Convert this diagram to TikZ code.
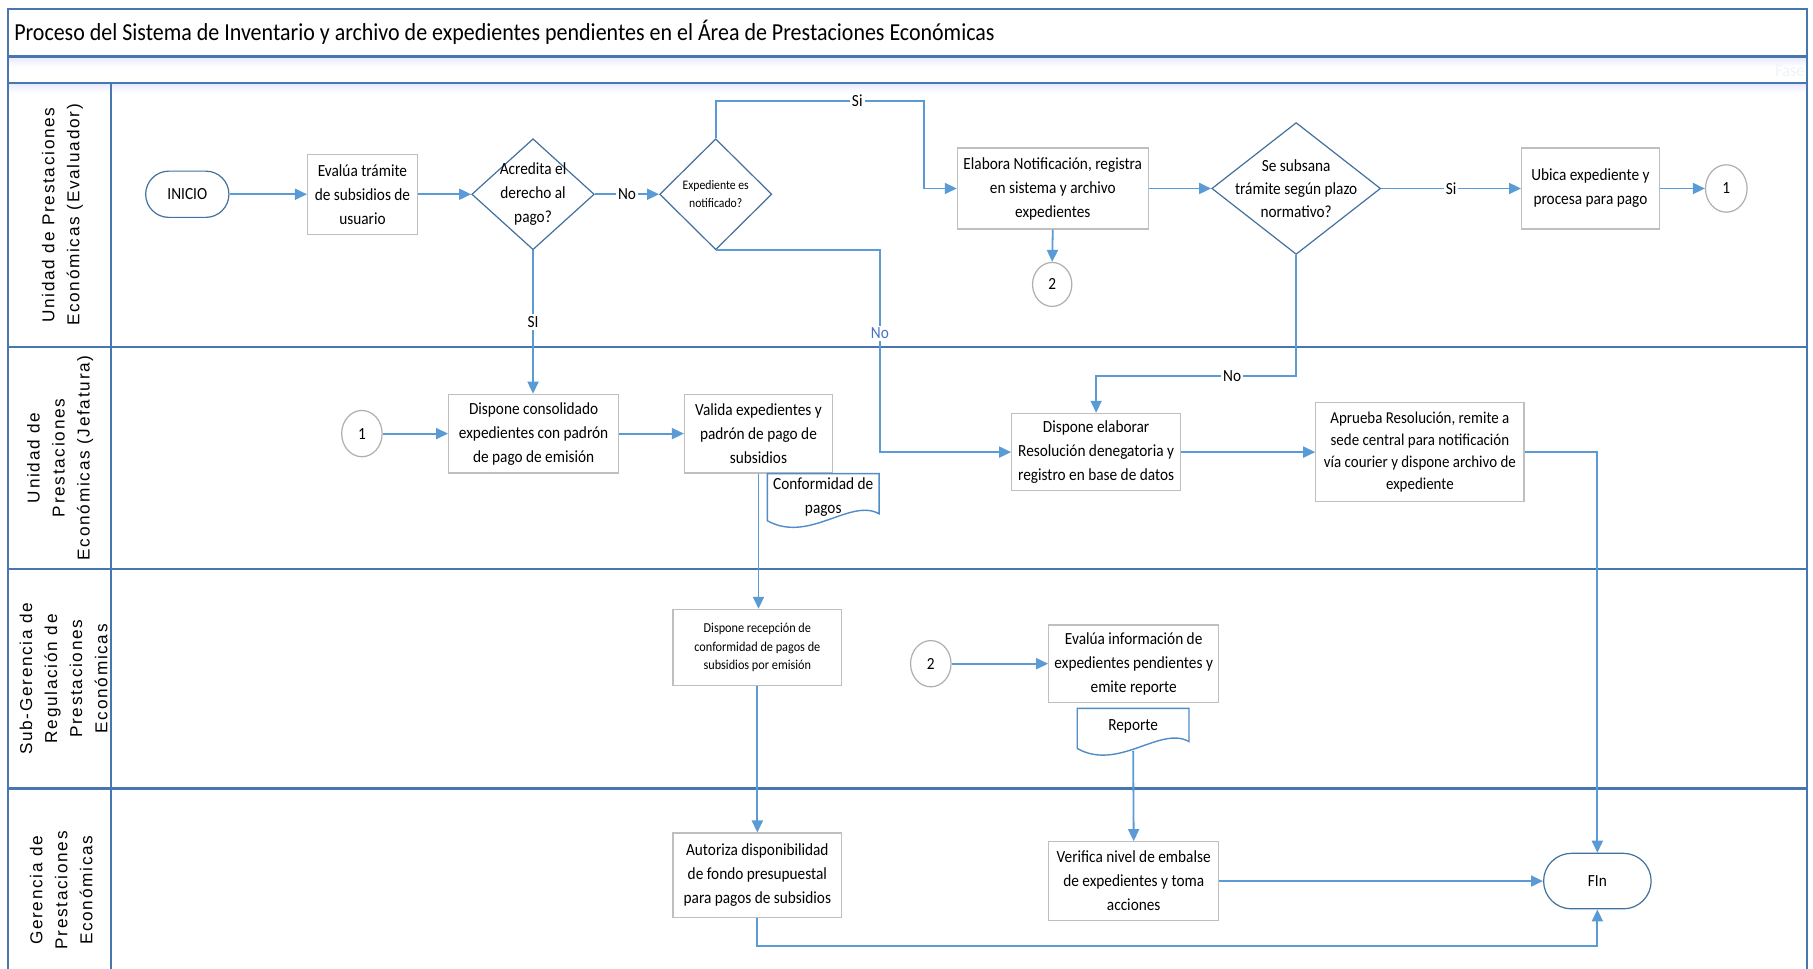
\documentclass[tikz,border=0pt]{standalone}
\usepackage{fontspec}
\setmainfont{Carlito}[FakeStretch=0.9]
\newfontfamily\lanefont{Liberation Sans}[LetterSpace=10]
\usetikzlibrary{shapes.geometric,arrows.meta,calc}

\definecolor{poolblue}{RGB}{72,118,176}
\definecolor{flowblue}{RGB}{91,155,213}
\definecolor{decblue}{RGB}{65,113,156}
\definecolor{boxgray}{RGB}{191,191,191}
\definecolor{circgray}{RGB}{175,175,175}
\definecolor{docblue}{RGB}{80,140,200}
\definecolor{nolabel}{RGB}{68,114,196}
\definecolor{phasetext}{RGB}{238,243,249}

\newcommand\boxfont{\fontsize{8.5}{12}\selectfont}
\newcommand\smallboxfont{\fontsize{6.8}{9.4}\selectfont}
% document symbol with a wavy lower edge, drawn around a node
\newcommand\docshape[1]{%
  \draw[docline] (#1.north west) -- (#1.north east) -- (#1.south east)
    .. controls ($(#1.south east)+(-25,-14)$) and ($(#1.south west)+(36,26)$)
    .. ($(#1.south west)+(0,6)$) -- cycle;}

\begin{document}
\begin{tikzpicture}[x=0.578pt,y=-0.578pt,
  every node/.style={font=\boxfont},
  pool/.style={draw=poolblue,line width=1.2pt},
  proc/.style n args={2}{draw=boxgray,line width=0.6pt,fill=white,align=center,
    inner sep=1pt,minimum width=#1*0.578pt,minimum height=#2*0.578pt},
  term/.style n args={2}{draw=decblue,line width=0.6pt,fill=white,align=center,
    minimum width=#1*0.578pt,minimum height=#2*0.578pt,rounded corners=#2*0.289pt},
  dec/.style n args={2}{diamond,draw=decblue,line width=0.6pt,fill=white,inner sep=0pt,
    minimum width=#1*0.578pt,minimum height=#2*0.578pt},
  dectext/.style={align=center,inner sep=0pt},
  conn/.style n args={2}{ellipse,draw=circgray,line width=0.6pt,fill=white,inner sep=0pt,
    minimum width=#1*0.578pt,minimum height=#2*0.578pt},
  docnode/.style n args={2}{align=center,inner sep=0pt,
    minimum width=#1*0.578pt,minimum height=#2*0.578pt},
  docline/.style={draw=docblue,line width=0.7pt,fill=white},
  flow/.style={draw=flowblue,line width=0.9pt,-{Triangle[length=6pt,width=5.5pt]}},
  lbl/.style={fill=white,inner sep=1pt,text=black},
  lanelabel/.style={rotate=90,align=center,font=\lanefont\fontsize{8.6}{12.5}\selectfont}]

\useasboundingbox (0,0) rectangle (1568,837.2);
\clip (0,0) rectangle (1568,837.2);
\fill[white] (0,0) rectangle (1568,837.2);

% ---------- pool, header rows and lanes ----------
\shade[top color=blue!9,bottom color=white] (7,49) rectangle (1563,58);
\shade[top color=blue!9,bottom color=white] (7,72) rectangle (1563,80);
\draw[pool] (7,8) rectangle (1563,880);
\draw[pool] (7,49) -- (1563,49);
\draw[pool] (7,72) -- (1563,72);
\draw[pool] (96,72) -- (96,880);
\draw[pool] (7,300) -- (1563,300);
\draw[pool] (7,492) -- (1563,492);
\draw[pool] (7,682) -- (1563,682);

\node[anchor=west,font=\fontsize{12.2}{14}\selectfont,inner sep=0pt] (title) at (12,28)
  {Proceso del Sistema de Inventario y archivo de expedientes pendientes en el Área de Prestaciones Económicas};
\node[anchor=east,text=phasetext,inner sep=0pt,font=\fontsize{9}{11}\selectfont] (phase) at (1561,61) {Fase};

\node[lanelabel] (lane1) at (54,186) {Unidad de Prestaciones\\Económicas (Evaluador)};
\node[lanelabel] (lane2) at (52,396) {Unidad de\\Prestaciones\\Económicas (Jefatura)};
\node[lanelabel] (lane3) at (55,587) {Sub-Gerencia de\\Regulación de\\Prestaciones\\Económicas};
\node[lanelabel] (lane4) at (53,770) {Gerencia de\\Prestaciones\\Económicas};

% ---------- lane 1: evaluador ----------
\node[term={72}{40}] (ini) at (162,168) {INICIO};
\node[proc={95}{69}] (eva) at (313.5,168) {Evalúa trámite\\de subsidios de\\usuario};
\node[dec={106}{96}] (d1) at (461,168) {};
\node[dectext] (d1t) at (d1) {Acredita el\\derecho al\\pago?};
\node[dec={97}{96}] (d2) at (619,168) {};
\node[dectext,font=\fontsize{6.5}{9.2}\selectfont] (d2t) at (d2) {Expediente es\\notificado?};
\node[proc={165}{70}] (elab) at (910.5,163) {Elabora Notificación, registra\\en sistema y archivo\\expedientes};
\node[conn={34}{38}] (c2a) at (910,246) {2};
\node[dec={146}{114}] (d3) at (1121,163) {};
\node[dectext,font=\fontsize{8.5}{11.6}\selectfont] (d3t) at (d3) {Se subsana\\trámite según plazo\\normativo?};
\node[proc={119}{70}] (ubi) at (1375.5,163) {Ubica expediente y\\procesa para pago};
\node[conn={36}{41}] (c1a) at (1493,163) {1};

% ---------- lane 2: jefatura ----------
\node[conn={35}{40}] (c1b) at (313,375) {1};
\node[proc={147}{68}] (cons) at (461.5,375) {Dispone consolidado\\expedientes con padrón\\de pago de emisión};
\node[proc={128}{68}] (vali) at (656,375) {Valida expedientes y\\padrón de pago de\\subsidios};
\node[docnode={96}{34}] (conf) at (712,427) {};
\docshape{conf}
\node[align=center,inner sep=0pt] (conft) at (712,430) {Conformidad de\\pagos};
\node[proc={146}{67}] (res) at (948,391) {Dispone elaborar\\Resolución denegatoria y\\registro en base de datos};
\node[proc={180}{86},font=\fontsize{8.3}{11}\selectfont] (apr) at (1228,391)
  {Aprueba Resolución, remite a\\sede central para notificación\\vía courier y dispone archivo de\\expediente};

% ---------- lane 3: sub-gerencia ----------
\node[proc={146}{66},font=\smallboxfont] (rec) at (655,560)
  {Dispone recepción de\\conformidad de pagos de\\subsidios por emisión};
\node[conn={35}{40}] (c2b) at (805,574) {2};
\node[proc={147}{67}] (evi) at (980.5,574) {Evalúa información de\\expedientes pendientes y\\emite reporte};
\node[docnode={96}{28}] (rep) at (980,627) {};
\docshape{rep}
\node[inner sep=0pt] (rept) at (980,628) {Reporte};

% ---------- lane 4: gerencia ----------
\node[proc={146}{73}] (aut) at (655,757) {Autoriza disponibilidad\\de fondo presupuestal\\para pagos de subsidios};
\node[proc={147}{68}] (ver) at (980.5,762) {Verifica nivel de embalse\\de expedientes y toma\\acciones};
\node[term={93}{48}] (fin) at (1381.5,762) {FIn};

% bend points
\coordinate (b1) at (799,87);
\coordinate (b2) at (761,391);
\coordinate (b3) at (1121,325);
\coordinate (b4) at (1000,818);

% ---------- connectors ----------
\draw[flow] (ini) -- (eva);
\draw[flow] (eva) -- (d1);
\draw[flow] (d1) -- node[lbl] {No} (d2);
\draw[flow] (d2.north) |- node[lbl,pos=0.84] {Si} (b1) |- (elab.west);
\draw[flow] (d2.south) -| node[lbl,pos=0.705,text=nolabel] {No} (b2) -- (res.west);
\draw[flow] (d1.south) -- node[lbl,pos=0.5] {SI} (d1.south |- cons.north);
\draw[flow] (elab.south) -- (c2a.north);
\draw[flow] (elab) -- (d3);
\draw[flow] (d3) -- node[lbl,pos=0.5] {Si} (ubi);
\draw[flow] (ubi) -- (c1a);
\draw[flow] (d3.south) -- (b3) -| node[lbl,pos=0.16] {No} (res.north);
\draw[flow] (c1b) -- (cons);
\draw[flow] (cons) -- (vali);
\draw[flow] (res) -- (apr);
\draw[flow] (apr.east) -| (fin.north);
\draw[flow] (vali.south) -- (vali.south |- rec.north);
\draw[flow] (c2b) -- (evi);
\draw[flow] (rec.south) -- (rec.south |- aut.north);
\draw[flow] ($(rep.south)+(0,8)$) -- (ver.north);
\draw[flow] (aut.south) |- (b4) -| (fin.south);
\draw[flow] (ver.east) -- (ver.east -| fin.west);

\end{tikzpicture}
\end{document}
